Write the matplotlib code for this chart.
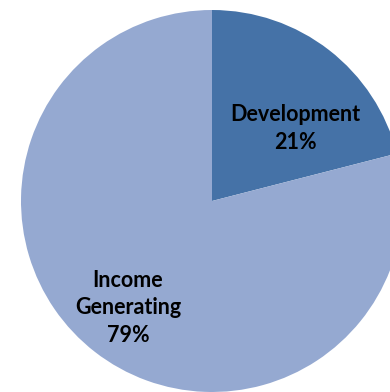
import matplotlib
matplotlib.use('Agg')
import matplotlib.pyplot as plt

# Data
categories = ['Development', 'Income Generating']
shares = [21, 79]
colors = ['#4572A7', '#95A9D1']
# label anchor relative to pie centre, in units of the radius
label_offsets = [(0.435, 0.38), (-0.44, -0.56)]

plt.rcParams['font.family'] = ['Lato', 'DejaVu Sans']

fig = plt.figure(figsize=(3.9, 3.92), dpi=100)
ax = fig.add_axes([0, 0, 1, 1])

# Pie is larger than the canvas, so it gets clipped on the right/bottom
cx, cy, r = 212, 191, 191
wedges, _ = ax.pie(shares, colors=colors, startangle=90, counterclock=False,
                   center=(cx, cy), radius=r,
                   wedgeprops=dict(linewidth=0))

for name, pct, (dx, dy) in zip(categories, shares, label_offsets):
    txt = name.replace(' ', '\n') + f'\n{pct}%'
    ax.text(cx + dx * r, cy + dy * r, txt, ha='center', va='center',
            fontsize=15.5, fontweight='bold', color='black', linespacing=1.4)

ax.set_xlim(0, 390)
ax.set_ylim(0, 392)
ax.set_aspect('equal')
ax.axis('off')

fig.savefig('out.png', dpi=100)
